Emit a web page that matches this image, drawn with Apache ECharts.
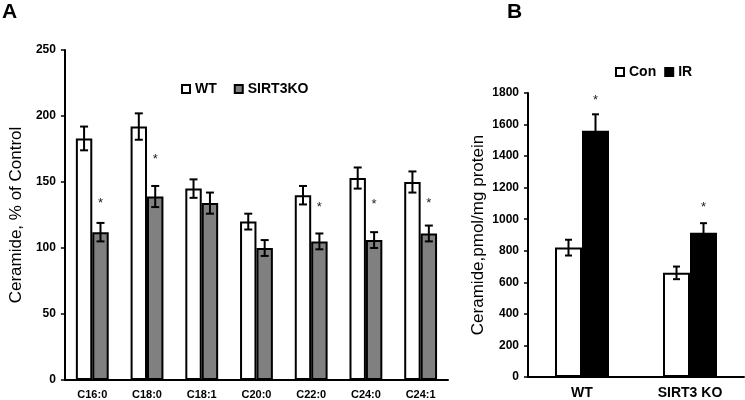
<!DOCTYPE html>
<html>
<head>
<meta charset="utf-8">
<script src="https://cdn.jsdelivr.net/npm/echarts@6/dist/echarts.min.js"></script>
<style>html,body{margin:0;padding:0;background:#fff}#c{width:745px;height:400px}</style>
</head>
<body>
<div id="c"></div>
<script>
// Panel A data
const catsA = ['C16:0','C18:0','C18:1','C20:0','C22:0','C24:0','C24:1'];
const wtA = [183, 192, 145, 120, 140, 153, 150];
const wtErrA = [9, 10, 7, 6, 7, 8, 8];
const koA = [112, 139, 134, 100, 105, 106, 111];
const koErrA = [7, 8, 8, 6, 6, 6, 6];
const starsA = [134, 167, null, null, 131, 133, 134];
const ticksA = {min: 0, max: 250, interval: 50};

// Panel B data
const catsB = ['WT', 'SIRT3 KO'];
const conB = [820, 660];
const conErrB = [50, 40];
const irB = [1560, 915];
const irErrB = [105, 60];
const starsB = [1751, 1074];
const ticksB = {min: 0, max: 1800, interval: 200};

const FONT = 'Arial, "Liberation Sans", sans-serif';
const chart = echarts.init(document.getElementById('c'), null, {renderer: 'canvas'});

function errSeries(name, xAxisIndex, yAxisIndex, vals, errs, stars, side, ratio, cap) {
  const data = vals.map((v, i) => [i, v, errs[i], stars ? stars[i] : null]);
  return {
    type: 'custom', name: name + '_err', xAxisIndex, yAxisIndex, z: 10,
    silent: true, legendHoverLink: false,
    data,
    renderItem: function (params, api) {
      const i = api.value(0), v = api.value(1), e = api.value(2), s = api.value(3);
      const bw = api.size([1, 0])[0] * ratio;
      const c = api.coord([i, v]);
      const x = c[0] + side * bw / 2;
      const yt = api.coord([i, v + e])[1];
      const yb = api.coord([i, v - e])[1];
      const st = {stroke: '#000', lineWidth: 2};
      const children = [
        {type: 'line', shape: {x1: x, y1: yt, x2: x, y2: yb}, style: st},
        {type: 'line', shape: {x1: x - cap, y1: yt, x2: x + cap, y2: yt}, style: st},
        {type: 'line', shape: {x1: x - cap, y1: yb, x2: x + cap, y2: yb}, style: st}
      ];
      if (s != null && !isNaN(s)) {
        const ys = api.coord([i, s])[1];
        children.push({type: 'text', style: {x: x, y: ys, text: '*', fill: '#222', font: '13px ' + FONT, align: 'center', verticalAlign: 'middle'}});
      }
      return {type: 'group', children};
    }
  };
}

const axisLineStyle = {show: true, lineStyle: {color: '#000', width: 2}};
const plainNum = v => String(v);

chart.setOption({
  animation: false,
  backgroundColor: '#fff',
  textStyle: {fontFamily: FONT},
  graphic: [
    {type: 'text', left: 2, top: 2, style: {text: 'A', font: 'bold 21px ' + FONT, fill: '#000'}},
    {type: 'text', left: 507, top: 2, style: {text: 'B', font: 'bold 21px ' + FONT, fill: '#000'}}
  ],
  legend: [
    {data: ['WT', 'SIRT3KO'], left: 181, top: 82, padding: 0, itemWidth: 8, itemHeight: 8, itemGap: 17,
     icon: 'rect', textStyle: {fontWeight: 'bold', fontSize: 14, color: '#000', fontFamily: FONT},
     selectedMode: false},
    {data: ['Con', 'IR'], left: 615, top: 65, padding: 0, itemWidth: 8, itemHeight: 8, itemGap: 8,
     icon: 'rect', textStyle: {fontWeight: 'bold', fontSize: 14, color: '#000', fontFamily: FONT},
     selectedMode: false}
  ],
  grid: [
    {left: 57, top: 50, width: 391, height: 330},
    {left: 528, top: 93, width: 216, height: 285}
  ],
  xAxis: [
    {type: 'category', gridIndex: 0, data: catsA, axisLine: axisLineStyle, axisTick: {show: false},
     axisLabel: {color: '#000', fontWeight: 'bold', fontSize: 11, margin: 9, fontFamily: FONT}},
    {type: 'category', gridIndex: 1, data: catsB, axisLine: axisLineStyle, axisTick: {show: false},
     axisLabel: {color: '#000', fontWeight: 'bold', fontSize: 14, margin: 9, fontFamily: FONT}}
  ],
  yAxis: [
    {type: 'value', gridIndex: 0, min: ticksA.min, max: ticksA.max, interval: ticksA.interval,
     axisLine: axisLineStyle, axisTick: {show: true, length: 4, lineStyle: {color: '#000', width: 1.5}},
     splitLine: {show: false},
     axisLabel: {color: '#000', fontWeight: 'bold', fontSize: 12, margin: 9, fontFamily: FONT, formatter: plainNum},
     name: 'Ceramide, % of Control', nameLocation: 'middle', nameGap: 34, nameRotate: 90,
     nameTextStyle: {color: '#000', fontSize: 17, fontFamily: FONT}},
    {type: 'value', gridIndex: 1, min: ticksB.min, max: ticksB.max, interval: ticksB.interval,
     axisLine: axisLineStyle, axisTick: {show: true, length: 4, lineStyle: {color: '#000', width: 1.5}},
     splitLine: {show: false},
     axisLabel: {color: '#000', fontWeight: 'bold', fontSize: 12, margin: 9, fontFamily: FONT, formatter: plainNum},
     name: 'Ceramide,pmol/mg protein', nameLocation: 'middle', nameGap: 41, nameRotate: 90,
     nameTextStyle: {color: '#000', fontSize: 17, fontFamily: FONT}}
  ],
  series: [
    {type: 'bar', name: 'WT', xAxisIndex: 0, yAxisIndex: 0, data: wtA, barWidth: '30%', barGap: '0%',
     itemStyle: {color: '#fff', borderColor: '#000', borderWidth: 2}},
    {type: 'bar', name: 'SIRT3KO', xAxisIndex: 0, yAxisIndex: 0, data: koA, barWidth: '30%', barGap: '0%',
     itemStyle: {color: '#808080', borderColor: '#000', borderWidth: 2}},
    {type: 'bar', name: 'Con', xAxisIndex: 1, yAxisIndex: 1, data: conB, barWidth: '25%', barGap: '0%',
     itemStyle: {color: '#fff', borderColor: '#000', borderWidth: 2}},
    {type: 'bar', name: 'IR', xAxisIndex: 1, yAxisIndex: 1, data: irB, barWidth: '25%', barGap: '0%',
     itemStyle: {color: '#000', borderColor: '#000', borderWidth: 2}},
    errSeries('WT', 0, 0, wtA, wtErrA, null, -1, 0.30, 4),
    errSeries('SIRT3KO', 0, 0, koA, koErrA, starsA, 1, 0.30, 4),
    errSeries('Con', 1, 1, conB, conErrB, null, -1, 0.25, 3.5),
    errSeries('IR', 1, 1, irB, irErrB, starsB, 1, 0.25, 3.5)
  ]
});
</script>
</body>
</html>
